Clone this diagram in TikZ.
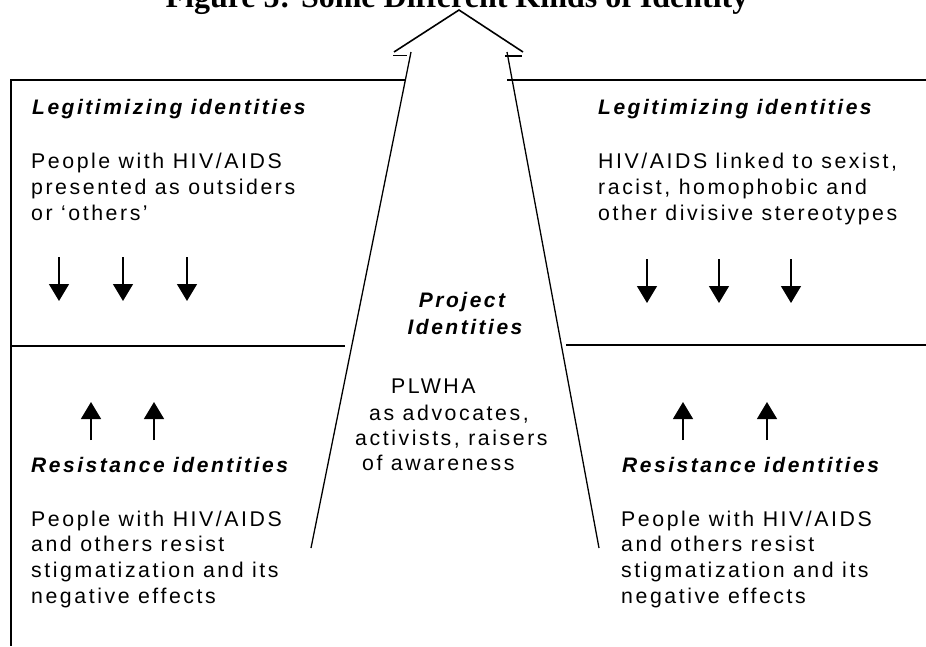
\documentclass[tikz,border=0pt]{standalone}
\usepackage{fontspec}
\setmainfont{Liberation Sans}[LetterSpace=12]
\newfontfamily\titlefont{Liberation Serif}
\usetikzlibrary{arrows.meta}

\begin{document}
\begin{tikzpicture}[x=1pt,y=-1pt,
    frame/.style={line width=1.6pt},
    shaft/.style={line width=1.3pt},
    arr/.style={line width=1.3pt,-{Triangle[width=20pt,length=17pt]}},
    body/.style={inner sep=0pt,anchor=base west,align=left,
      font=\fontsize{21.3}{25.6}\selectfont},
    head/.style={body,font=\fontsize{21}{25.6}\selectfont\bfseries\itshape}]
  \useasboundingbox (0,0) rectangle (926,646);
  \clip (0,0) rectangle (926,646);

  % title, cut off at the top
  \node (title) at (457,7) [anchor=base,inner sep=0pt,
    font=\titlefont\fontsize{32}{36}\selectfont\bfseries]
    {Figure 5: Some Different Kinds of Identity};

  % the big arrow
  \coordinate (apex) at (459,10);
  \draw[frame] (394,52) -- (apex) -- (523,52);
  \draw[frame] (393,55.5) -- (407,55.5);
  \draw[frame] (505,56) -- (522,56);
  \draw[shaft] (411,52) -- (311,548);
  \draw[shaft] (507,52) -- (599,548);

  % frame lines
  \draw[frame] (406,80) -- (11,80) -- (11,646);
  \draw[frame] (11,346) -- (345,346);
  \draw[frame] (507,80) -- (926,80);
  \draw[frame] (566,345) -- (926,345);

  % small arrows
  \foreach \x in {59,123,187}
    \draw[arr] (\x,257) -- (\x,301);
  \foreach \x in {647,719,791}
    \draw[arr] (\x,259) -- (\x,303);
  \foreach \x in {91,154,683,767}
    \draw[arr] (\x,440) -- (\x,402);

  % left side (multi-line texts sit on their last line)
  \node (legl) at (32,114) [head] {Legitimizing identities};
  \node (legltext) at (31,220) [body]
    {People with HIV/AIDS\\presented as outsiders\\or ‘others’};
  \node (resl) at (31,472) [head] {Resistance identities};
  \node (resltext) at (31,603) [body]
    {People with HIV/AIDS\\and others resist\\stigmatization and its\\negative effects};

  % right side
  \node (legr) at (598,114) [head] {Legitimizing identities};
  \node (legrtext) at (598,220) [body]
    {HIV/AIDS linked to sexist,\\racist, homophobic and\\other divisive stereotypes};
  \node (resr) at (622,472) [head] {Resistance identities};
  \node (resrtext) at (621,603) [body]
    {People with HIV/AIDS\\and others resist\\stigmatization and its\\negative effects};

  % middle
  \node (proj) at (462,307) [head,anchor=base] {Project};
  \node (ident) at (465,334) [head,anchor=base] {Identities};
  \node (plwha) at (391,393) [body] {PLWHA};
  \node (advoc) at (369,420) [body] {as advocates,};
  \node (activ) at (355,445) [body] {activists, raisers};
  \node (aware) at (362,470) [body] {of awareness};
\end{tikzpicture}
\end{document}
